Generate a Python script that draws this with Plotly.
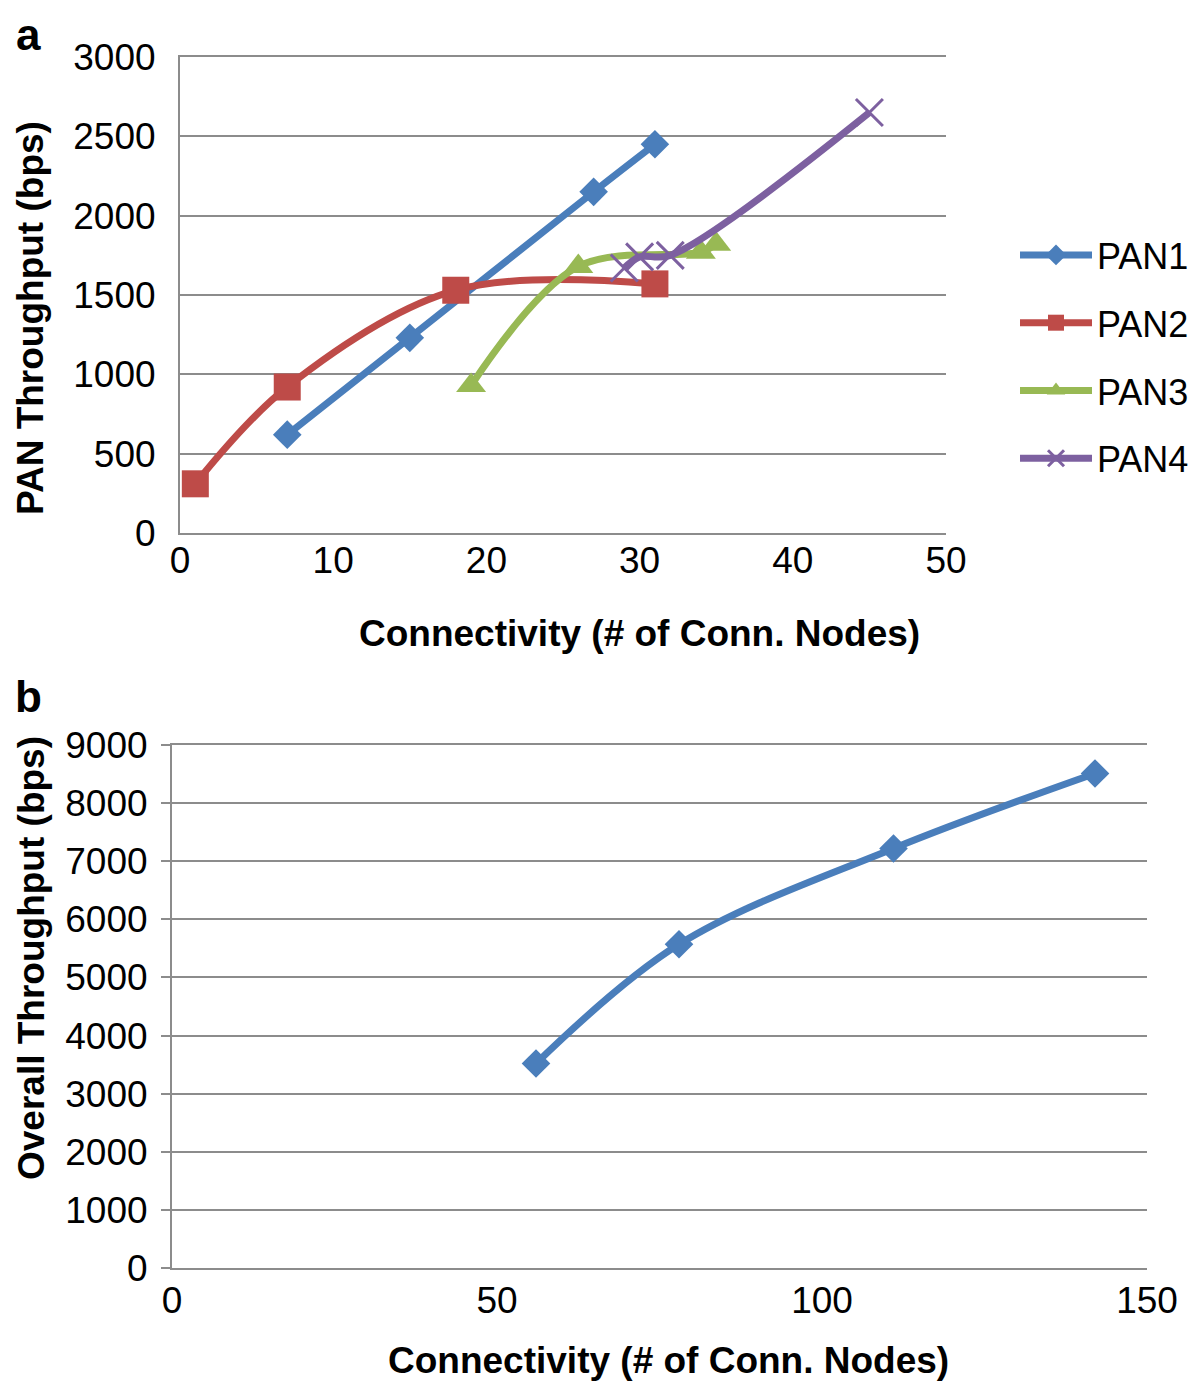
import plotly.graph_objects as go

# ---- data ----
pan1_x = [7, 15, 27, 31]
pan1_y = [620, 1230, 2150, 2450]
pan2_x = [1, 7, 18, 31]
pan2_y = [310, 920, 1530, 1570]
pan3_x = [19, 26, 34, 35]
pan3_y = [930, 1680, 1770, 1820]
pan4_x = [29, 30, 32, 45]
pan4_y = [1670, 1740, 1750, 2650]

overall_x = [56, 78, 111, 142]
overall_y = [3520, 5570, 7220, 8510]

# page is 1200x1389; html body has an 8px margin
OFF = 8
W, H = 1200 - 2 * OFF, 1389 - 2 * OFF
FONT = "Liberation Sans, Arial, sans-serif"
GRID = "#8c8c8c"

BLUE = "#4a7ebb"
RED = "#be4b48"
GREEN = "#98b954"
PURPLE = "#7d60a0"

fig = go.Figure()

def add(x, y, name, color, symbol, size, xa="x", ya="y", showlegend=True, lw=0):
    fig.add_trace(go.Scatter(
        x=x, y=y, name=name, mode="lines+markers", legendgroup=name,
        line=dict(color=color, width=7, shape="spline", smoothing=1.0),
        marker=dict(symbol=symbol, size=size, color=color,
                    line=dict(color=color, width=lw)),
        xaxis=xa, yaxis=ya, showlegend=showlegend,
    ))

add(pan1_x, pan1_y, "PAN1", BLUE, "diamond", 22)
add(pan2_x, pan2_y, "PAN2", RED, "square", 27)
add(pan3_x, pan3_y, "PAN3", GREEN, "triangle-up", 26)
add(pan4_x, pan4_y, "PAN4", PURPLE, "x-thin", 27, lw=3)
add(overall_x, overall_y, "Overall", BLUE, "diamond", 22, xa="x2", ya="y2", showlegend=False)

def px(p):          # page x -> paper fraction
    return (p - OFF) / W

def py(p):          # page y -> paper fraction
    return 1 - (p - OFF) / H

FS = 37
tickfont = dict(family=FONT, size=FS, color="black")
titlefont = dict(family=FONT, size=FS, color="black")

common_x = dict(showgrid=False, zeroline=False, showline=True, mirror=True,
                linecolor=GRID, linewidth=2, ticks="", tickfont=tickfont,
                automargin=False, fixedrange=True)
common_y = dict(showgrid=True, gridcolor=GRID, gridwidth=2, zeroline=False,
                showline=True, linecolor=GRID, linewidth=2, tickfont=tickfont,
                automargin=False, fixedrange=True)

fig.update_layout(
    width=W, height=H,
    margin=dict(l=0, r=0, t=0, b=0, autoexpand=False),
    paper_bgcolor="white", plot_bgcolor="white",
    font=dict(family=FONT, color="black"),
    xaxis=dict(domain=[px(180), px(946)], range=[0, 50], dtick=10, tick0=0,
               ticklabelstandoff=-6, anchor="y", **common_x),
    yaxis=dict(domain=[py(533), py(57)], range=[0, 3000], dtick=500, tick0=0,
               ticks="", ticklabelstandoff=15, anchor="x", **common_y),
    xaxis2=dict(domain=[px(172), px(1147)], range=[0, 150], dtick=50, tick0=0,
                ticklabelstandoff=-1, anchor="y2", **common_x),
    yaxis2=dict(domain=[py(1268), py(745)], range=[0, 9000], dtick=1000, tick0=0,
                ticks="outside", ticklen=9, tickwidth=2, tickcolor=GRID,
                ticklabelstandoff=6, anchor="x2", **common_y),
    legend=dict(x=px(1015), y=py(225), xanchor="left", yanchor="top",
                font=dict(family=FONT, size=36, color="black"),
                itemwidth=72, traceorder="grouped", tracegroupgap=18,
                bgcolor="rgba(0,0,0,0)", borderwidth=0),
    showlegend=True,
)

def ann(text, x, y, size=FS, angle=0, xanchor="center", yanchor="middle"):
    fig.add_annotation(text=text, x=px(x), y=py(y), xref="paper", yref="paper",
                       showarrow=False, textangle=angle,
                       font=dict(family=FONT, size=size, color="black"),
                       xanchor=xanchor, yanchor=yanchor)

# axis titles
ann("<b>Connectivity (# of Conn. Nodes)</b>", 639, 633)
ann("<b>PAN Throughput (bps)</b>", 31, 318, angle=-90)
ann("<b>Connectivity (# of Conn. Nodes)</b>", 669, 1360)
ann("<b>Overall Throughput (bps)</b>", 31, 958, angle=-90)

# panel letters
ann("<b>a</b>", 28, OFF, size=44, yanchor="top")
ann("<b>b</b>", 28, 697, size=44)

fig.write_html("out.html")
